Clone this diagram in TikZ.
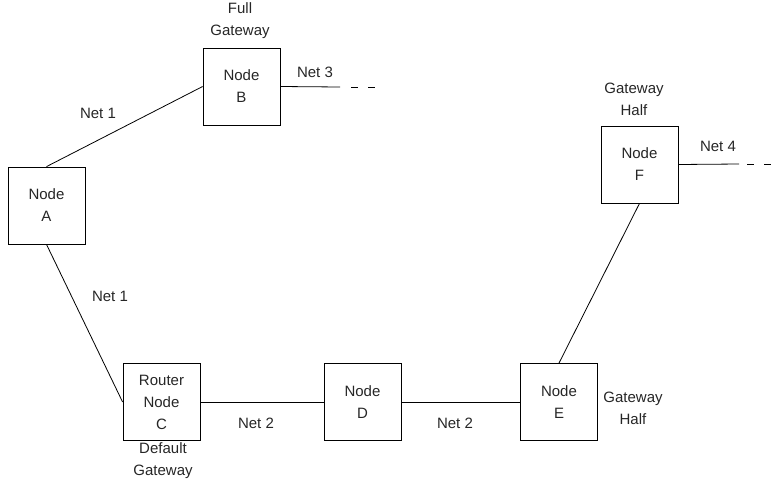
\documentclass[tikz,border=0pt]{standalone}
\usepackage{fontspec}
\setmainfont{Liberation Sans}
\begin{document}
\begin{tikzpicture}[x=1pt,y=-1pt,
  every node/.style={font=\fontsize{15}{22}\selectfont, text=black!85},
  nodebox/.style={draw, line width=0.8pt, minimum width=77pt, minimum height=77pt, align=center, inner sep=0pt},
  lbl/.style={align=center, inner sep=0pt},
  link/.style={line width=0.8pt},
  stub/.style={line width=0.8pt, dash pattern=on 7pt off 10pt}]
\useasboundingbox (0,0) rectangle (780,483);
\node[nodebox] (A) at (46.5,205.5) {Node\\A};
\node[nodebox] (B) at (241.5,86.5) {Node\\B};
\node[nodebox] (C) at (161.5,402) {Router\\Node\\C};
\node[nodebox] (D) at (362.5,402) {Node\\D};
\node[nodebox] (E) at (559,402) {Node\\E};
\node[nodebox] (F) at (639.5,164.5) {Node\\F};
\coordinate (b3) at (340,87);
\coordinate (b3e) at (375,87);
\coordinate (f4) at (739,164);
\coordinate (f4e) at (776,164);
\draw[link] (A.north) -- (B.west);
\draw[link] (A.south) -- (C.west);
\draw[link] (C.east) -- (D.west);
\draw[link] (D.east) -- (E.west);
\draw[link] (E.north) -- (F.south);
\draw[link] (B.east) -- (b3);
\draw[stub] ([xshift=11pt]b3) -- (b3e);
\draw[link] (F.east) -- (f4);
\draw[stub] ([xshift=8pt]f4) -- (f4e);
\node[lbl] (n1a) at (98,113) {Net 1};
\node[lbl] (n1b) at (110,296) {Net 1};
\node[lbl] (n2a) at (256,423) {Net 2};
\node[lbl] (n2b) at (455,423) {Net 2};
\node[lbl] (n3) at (315,72) {Net 3};
\node[lbl] (n4) at (718,146) {Net 4};
\node[lbl] (gB) at (240,20.5) {Full\\Gateway};
\node[lbl] (gF) at (634,99) {Gateway\\Half};
\node[lbl] (gC) at (163,461) {Default\\Gateway};
\node[lbl] (gE) at (633,408) {Gateway\\Half};
\end{tikzpicture}
\end{document}
